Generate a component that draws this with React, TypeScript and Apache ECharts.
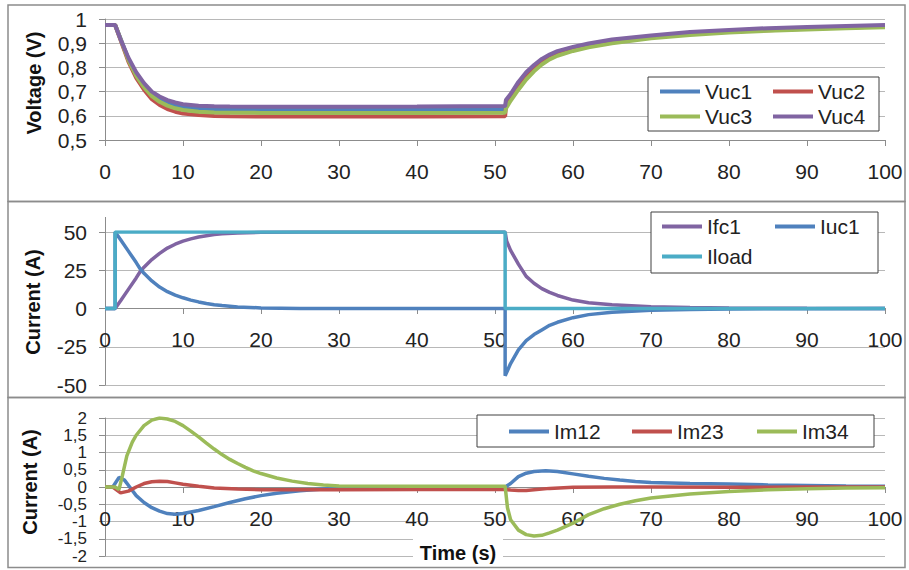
import React, { useEffect, useRef } from 'react';
import * as echarts from 'echarts';

// ---------- Panel 1: voltages ----------
const tVolt = [0, 1.3, 2, 3, 4, 5, 6, 7, 8, 9, 10, 12, 14, 16, 20, 30, 40, 51.3, 51.4, 52, 53, 54, 55, 56, 57, 58, 60, 62, 65, 70, 75, 80, 85, 90, 95, 100];
const vuc1 = [0.975, 0.975, 0.918, 0.835, 0.773, 0.728, 0.692, 0.669, 0.654, 0.644, 0.637, 0.63, 0.627, 0.626, 0.625, 0.625, 0.626, 0.627, 0.652, 0.68, 0.725, 0.768, 0.8, 0.826, 0.845, 0.859, 0.878, 0.892, 0.908, 0.927, 0.94, 0.949, 0.956, 0.961, 0.966, 0.97];
const vuc2 = [0.975, 0.975, 0.913, 0.824, 0.757, 0.708, 0.669, 0.645, 0.628, 0.617, 0.609, 0.603, 0.599, 0.598, 0.597, 0.597, 0.597, 0.598, 0.64, 0.672, 0.718, 0.76, 0.793, 0.82, 0.84, 0.855, 0.874, 0.889, 0.905, 0.925, 0.938, 0.947, 0.954, 0.96, 0.965, 0.969];
const vuc3 = [0.975, 0.975, 0.916, 0.83, 0.765, 0.718, 0.681, 0.658, 0.642, 0.631, 0.624, 0.617, 0.614, 0.613, 0.612, 0.612, 0.612, 0.613, 0.63, 0.662, 0.708, 0.75, 0.784, 0.812, 0.833, 0.848, 0.868, 0.883, 0.9, 0.92, 0.934, 0.944, 0.951, 0.957, 0.962, 0.966];
const vuc4 = [0.975, 0.975, 0.915, 0.84, 0.78, 0.735, 0.7, 0.68, 0.665, 0.655, 0.648, 0.642, 0.639, 0.638, 0.637, 0.637, 0.638, 0.64, 0.665, 0.69, 0.74, 0.78, 0.81, 0.835, 0.853, 0.867, 0.885, 0.899, 0.915, 0.932, 0.946, 0.955, 0.962, 0.967, 0.971, 0.975];

// ---------- Panel 2: currents ----------
const tIfc = [0, 1.3, 2, 3, 4, 4.5, 5, 6, 7, 8, 9, 10, 11, 12, 13, 14, 15, 17, 20, 25, 51.3, 51.5, 52, 53, 54, 55, 56, 57, 58, 60, 62, 65, 70, 75, 80, 90, 100];
const ifc1 = [0, 0, 5, 12.5, 20, 24, 27, 32, 36, 39.5, 42, 44, 45.5, 46.7, 47.6, 48.3, 48.8, 49.4, 49.8, 50, 50, 44, 38, 29, 21, 16.5, 13, 10.5, 8.5, 5.5, 3.8, 2.4, 1.2, 0.6, 0.3, 0.1, 0];
const tIuc = [0, 1.3, 1.3, 2, 3, 4, 4.5, 5, 6, 7, 8, 9, 10, 11, 12, 13, 14, 15, 17, 20, 25, 51.3, 51.3, 52, 53, 54, 55, 56, 57, 58, 60, 62, 65, 70, 75, 80, 90, 100];
const iuc1 = [0, 0, 50, 45, 37.5, 30, 26, 23, 18, 14, 11, 8.8, 7, 5.5, 4.3, 3.3, 2.5, 1.9, 1, 0.4, 0, 0, -44, -36, -27, -21, -17, -14, -11, -9, -6, -4, -2.5, -1.2, -0.6, -0.3, -0.1, 0];
const tLoad = [0, 1.3, 1.3, 51.3, 51.3, 100];
const iload = [0, 0, 50, 50, 0, 0];

// ---------- Panel 3: module currents ----------
const tIm12 = [0, 1, 1.8, 2.5, 3, 4, 5, 6, 7, 8, 9, 10, 12, 14, 16, 18, 20, 22, 25, 28, 30, 35, 40, 51.3, 52, 53, 54, 55, 56.5, 58, 60, 62, 64, 66, 68, 70, 75, 80, 85, 90, 95, 100];
const im12 = [0, 0, 0.28, 0.2, 0.05, -0.25, -0.45, -0.6, -0.7, -0.77, -0.79, -0.77, -0.68, -0.57, -0.45, -0.34, -0.25, -0.18, -0.11, -0.06, -0.03, 0, 0.01, 0, 0.1, 0.3, 0.4, 0.45, 0.47, 0.45, 0.38, 0.31, 0.25, 0.2, 0.16, 0.13, 0.1, 0.085, 0.06, 0.045, 0.03, 0.02];
const tIm23 = [0, 1, 2, 3, 4, 5, 6, 7, 8, 9, 10, 12, 14, 17, 20, 30, 40, 51.3, 52, 53, 54, 55, 57, 60, 65, 70, 80, 90, 100];
const im23 = [0, 0, -0.17, -0.12, 0, 0.1, 0.15, 0.17, 0.16, 0.12, 0.08, 0.02, -0.03, -0.06, -0.08, -0.08, -0.07, -0.07, -0.09, -0.1, -0.1, -0.08, -0.04, -0.01, 0, 0, -0.01, 0, 0];
const tIm34 = [0, 1.3, 1.8, 2.2, 2.8, 3.5, 4, 5, 6, 7, 8, 9, 10, 11, 12, 13, 14, 15, 16, 17, 18, 19, 20, 22, 24, 26, 28, 30, 40, 51.3, 51.6, 52, 53, 54, 55, 56, 57, 58, 60, 62, 64, 66, 68, 70, 75, 80, 85, 90, 95, 100];
const im34 = [0, 0, -0.07, 0.3, 0.9, 1.3, 1.5, 1.78, 1.94, 2.0, 1.97, 1.9, 1.78, 1.62, 1.45, 1.27, 1.1, 0.94, 0.8, 0.68, 0.57, 0.47, 0.39, 0.26, 0.17, 0.1, 0.06, 0.03, 0.02, 0.02, -0.6, -0.95, -1.25, -1.38, -1.42, -1.4, -1.33, -1.25, -1.05, -0.8, -0.63, -0.5, -0.4, -0.32, -0.2, -0.13, -0.08, -0.05, -0.03, -0.02];

const C_BLUE = '#4F81BD';
const C_RED = '#C0504D';
const C_GREEN = '#9BBB59';
const C_PURPLE = '#8064A2';
const C_CYAN = '#4BACC6';

const FONT = "'Liberation Sans', Arial, sans-serif";
const AXIS_C = '#8c8c8c';
const GRID_C = '#b8b8b8';

const zip = (t: number[], v: number[]) => t.map((x, i) => [x, v[i]]);
const fmt = (v: number) => String(Math.round(v * 100) / 100).replace('.', ',');
const isInt = (v: number) => Math.abs(v - Math.round(v)) < 1e-6;

const grids = [
  { left: 105, top: 19, width: 780, height: 121 },
  { left: 105, top: 232, width: 780, height: 153 },
  { left: 105, top: 418, width: 780, height: 138 },
];

const yRanges = [
  { min: 0.5, max: 1, interval: 0.1 },
  { min: -50, max: 50, interval: 25 },
  { min: -2, max: 2, interval: 0.5 },
];

// distance of the zero line above each grid's bottom edge
const xAxisOffsets = [0, -77, -69];
const BOTTOM_Y_FONT = 17;

function mkSeries(name: string, data: number[][], color: string, grid: number, width: number) {
  return {
    name,
    type: 'line',
    xAxisIndex: grid,
    yAxisIndex: grid,
    data,
    showSymbol: false,
    symbol: 'none',
    color,
    lineStyle: { color, width },
    silent: true,
  };
}

function mkLegend(name: string, left: number, top: number) {
  return {
    data: [name],
    left,
    top,
    padding: 0,
    icon: 'rect',
    itemWidth: 40,
    itemHeight: 4,
    selectedMode: false,
    textStyle: { fontSize: 21, color: '#222', fontFamily: FONT },
  };
}

function mkBox(x: number, y: number, w: number, h: number) {
  return {
    type: 'rect',
    z: 3,
    silent: true,
    shape: { x, y, width: w, height: h },
    style: { fill: '#ffffff', stroke: '#404040', lineWidth: 1 },
  };
}

function mkTitle(text: string, x: number, y: number) {
  return {
    type: 'text',
    x,
    y,
    rotation: Math.PI / 2,
    z: 5,
    silent: true,
    style: { text, font: `bold 20px ${FONT}`, fill: '#111', align: 'center', verticalAlign: 'middle' },
  };
}

const labelBase = {
  color: '#222',
  margin: 18,
  fontFamily: FONT,
  hideOverlap: false,
  showMinLabel: true,
  showMaxLabel: true,
};

const yAxes: any[] = yRanges.map((r, i) => ({
  type: 'value',
  gridIndex: i,
  min: r.min,
  max: r.max,
  interval: r.interval,
  axisLine: { show: true, lineStyle: { color: AXIS_C, width: 1 } },
  axisTick: { show: true, length: 6, lineStyle: { color: AXIS_C } },
  axisLabel: {
    ...labelBase,
    fontSize: i === 2 ? BOTTOM_Y_FONT : 21,
    lineHeight: i === 2 ? BOTTOM_Y_FONT : 21,
    formatter: i === 2 ? (v: number) => (isInt(v) ? fmt(v) : '') : fmt,
  },
  splitLine: { show: true, lineStyle: { color: GRID_C, width: 1 } },
}));
// second label layer for the half-unit ticks of the bottom panel
yAxes.push({
  type: 'value',
  gridIndex: 2,
  position: 'left',
  min: yRanges[2].min,
  max: yRanges[2].max,
  interval: yRanges[2].interval,
  axisLine: { show: false },
  axisTick: { show: false },
  splitLine: { show: false },
  axisLabel: {
    ...labelBase,
    fontSize: BOTTOM_Y_FONT,
    lineHeight: BOTTOM_Y_FONT,
    formatter: (v: number) => (isInt(v) ? '' : fmt(v)),
  },
});

const option: any = {
  animation: false,
  backgroundColor: '#ffffff',
  grid: grids,
  xAxis: grids.map((_, i) => ({
    type: 'value',
    gridIndex: i,
    position: 'bottom',
    offset: xAxisOffsets[i],
    min: 0,
    max: 100,
    interval: 10,
    axisLine: { show: true, onZero: false, lineStyle: { color: AXIS_C, width: 1 } },
    axisTick: { show: true, length: 6, lineStyle: { color: AXIS_C } },
    axisLabel: { fontSize: 21, color: '#222', margin: 21, fontFamily: FONT, showMinLabel: true, showMaxLabel: true },
    splitLine: { show: false },
  })),
  yAxis: yAxes,
  legend: [
    mkLegend('Vuc1', 660, 81),
    mkLegend('Vuc2', 773, 81),
    mkLegend('Vuc3', 660, 106),
    mkLegend('Vuc4', 773, 106),
    mkLegend('Ifc1', 662, 216),
    mkLegend('Iuc1', 775, 216),
    mkLegend('Iload', 662, 246),
    mkLegend('Im12', 509, 421),
    mkLegend('Im23', 632, 421),
    mkLegend('Im34', 757, 421),
  ],
  graphic: [
    { type: 'rect', z: 1, silent: true, shape: { x: 8, y: 5, width: 897, height: 196.5 }, style: { fill: 'none', stroke: '#8c8c8c', lineWidth: 1.5 } },
    { type: 'rect', z: 1, silent: true, shape: { x: 8, y: 201.5, width: 897, height: 196 }, style: { fill: 'none', stroke: '#8c8c8c', lineWidth: 1.5 } },
    { type: 'rect', z: 1, silent: true, shape: { x: 8, y: 397.5, width: 897, height: 170 }, style: { fill: 'none', stroke: '#8c8c8c', lineWidth: 1.5 } },
    { type: 'line', z: 1, silent: true, shape: { x1: 105.5, y1: 217, x2: 105.5, y2: 232 }, style: { stroke: AXIS_C, lineWidth: 1 } },
    mkBox(648, 77, 231, 54),
    mkBox(651, 212, 227, 61),
    mkBox(477, 415, 397, 32),
    mkTitle('Voltage (V)', 34, 83),
    mkTitle('Current (A)', 33, 302),
    mkTitle('Current (A)', 30, 482),
    { type: 'rect', z: 4, silent: true, shape: { x: 413, y: 539, width: 90, height: 27 }, style: { fill: '#ffffff' } },
    { type: 'text', x: 458, y: 553, z: 5, silent: true, style: { text: 'Time (s)', font: `bold 20px ${FONT}`, fill: '#111', align: 'center', verticalAlign: 'middle' } },
  ],
  series: [
    mkSeries('Vuc1', zip(tVolt, vuc1), C_BLUE, 0, 4),
    mkSeries('Vuc2', zip(tVolt, vuc2), C_RED, 0, 4),
    mkSeries('Vuc3', zip(tVolt, vuc3), C_GREEN, 0, 4),
    mkSeries('Vuc4', zip(tVolt, vuc4), C_PURPLE, 0, 4),
    mkSeries('Ifc1', zip(tIfc, ifc1), C_PURPLE, 1, 3.5),
    mkSeries('Iuc1', zip(tIuc, iuc1), C_BLUE, 1, 3.5),
    mkSeries('Iload', zip(tLoad, iload), C_CYAN, 1, 3.5),
    mkSeries('Im12', zip(tIm12, im12), C_BLUE, 2, 3.5),
    mkSeries('Im23', zip(tIm23, im23), C_RED, 2, 3.5),
    mkSeries('Im34', zip(tIm34, im34), C_GREEN, 2, 3.5),
  ],
};

export default function App() {
  const ref = useRef<HTMLDivElement>(null);
  useEffect(() => {
    if (!ref.current) return;
    const chart = echarts.init(ref.current, null, { renderer: 'svg' });
    chart.setOption(option);
    return () => chart.dispose();
  }, []);
  return <div ref={ref} style={{ position: 'absolute', left: 0, top: 0, width: 909, height: 570 }} />;
}
